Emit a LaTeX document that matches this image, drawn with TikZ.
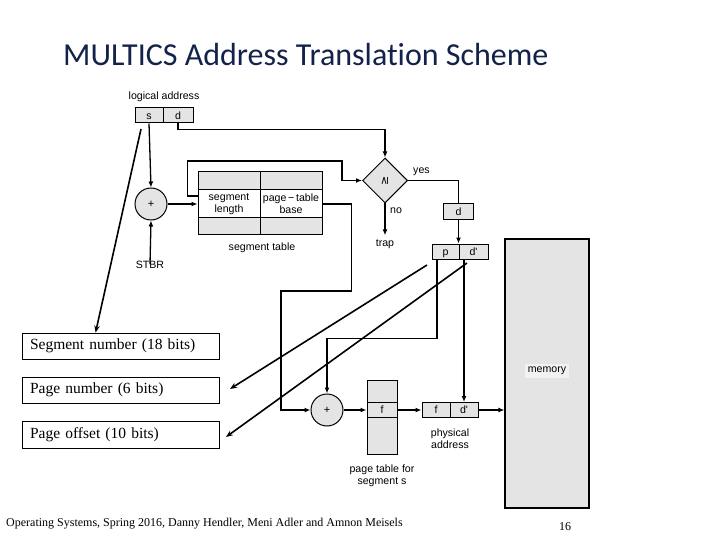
\documentclass[tikz,border=0pt]{standalone}
\usepackage{fontspec}
\setmainfont{Liberation Serif}
\newfontfamily\hv{Liberation Sans}
\newfontfamily\calfont[Ligatures={NoCommon}]{Carlito}
\newfontfamily\djfont{DejaVu Sans}
\usetikzlibrary{arrows.meta,shapes.geometric,calc}
\definecolor{cellgray}{HTML}{E4E4E4}
\definecolor{titleblue}{HTML}{13224A}
\tikzset{
  lab/.style={font=\hv\fontsize{10.6}{12.5}\selectfont, inner sep=0pt, align=center},
  gcell/.style={draw, line width=1pt, fill=cellgray, inner sep=0pt, font=\hv\fontsize{10.6}{12}\selectfont, align=center},
  onel/.style={gcell, text height=7.7pt, text depth=0pt},
  wcell/.style={gcell, fill=white},
  conn/.style={line width=1.3pt},
  arr/.style={conn, -{Latex[length=6pt,width=5pt]}},
  obox/.style={draw, line width=0.9pt, fill=white, text width=181pt, align=left, inner xsep=8pt, inner ysep=0pt, font=\fontsize{15.5}{17}\selectfont},
  oarr/.style={line width=1.6pt, -{Stealth[length=7pt,width=5.5pt]}},
  adder/.style={circle, draw, line width=1pt, fill=cellgray, minimum size=32pt, inner sep=0pt, font=\hv\fontsize{11}{12}\selectfont}
}
\begin{document}
\begin{tikzpicture}[x=1pt,y=-1pt]
\useasboundingbox (0,0) rectangle (720,540);
% title
\node[anchor=base west, font=\calfont\fontsize{32}{35}\selectfont, text=titleblue, inner sep=0pt] (title) at (63,66) {MULTICS Address Translation Scheme};
% logical address
\node[lab] (la) at (164,97) {logical address};
\node[onel, minimum width=28pt, minimum height=15pt] (s) at (149,115.5) {s};
\node[onel, minimum width=30pt, minimum height=15pt] (d) at (178,115.5) {d};
% adder 1
\node[adder] (c1) at (151,204) {+};
\node[lab] (stbr) at (150,265) {STBR};
\draw[arr] (s.south) -- (c1.north);
\draw[arr] (stbr.north) ++(0,-3pt) -- (c1.south);
% segment table
\node[gcell, minimum width=62pt, minimum height=18pt] (st1) at (229,181) {};
\node[gcell, minimum width=62pt, minimum height=18pt] (st2) at (291,181) {};
\node[wcell, minimum width=62pt, minimum height=28pt] (sl) at (229,204) {segment\\length};
\node[wcell, minimum width=62pt, minimum height=28pt] (pb) at (291,204) {page\,−\,table\\base};
\node[gcell, minimum width=62pt, minimum height=16pt] (st5) at (229,226) {};
\node[gcell, minimum width=62pt, minimum height=16pt] (st6) at (291,226) {};
\node[lab] (stl) at (262,248) {segment table};
\draw[arr] (c1.east) -- (sl.west);
% comparator
\node[diamond, draw, line width=1pt, fill=cellgray, minimum width=45pt, minimum height=45pt, inner sep=0pt] (dia) at (385,180.5) {\rotatebox{90}{\djfont\fontsize{11}{12}\selectfont ≥}};
\draw[arr] (d.south) -- ++(0,6) -| (dia.north);
\draw[arr] ([yshift=8pt]sl.west) -- ++(-10,0) |- (342,161) |- (dia.west);
\node[lab, anchor=west] (yes) at (413,172) {yes};
\node[lab, anchor=west] (no) at (390,211) {no};
\node[lab] (trap) at (385,244) {trap};
\draw[arr] (dia.south) -- ([yshift=4pt]trap.north);
\node[onel, minimum width=30pt, minimum height=16pt] (dbox) at (458.5,212) {d};
\draw[conn] (dia.east) -| (dbox.north);
\node[onel, minimum width=27pt, minimum height=15pt] (pp) at (445.5,251.5) {p};
\node[onel, minimum width=29pt, minimum height=15pt] (ppd) at (473.5,251.5) {d'};
\draw[arr] (dbox.south) -- (dbox.south |- pp.north);
% adder 2 and page table
\node[adder] (c2) at (327,410) {+};
\draw[arr] (pb.east) -- ++(29,0) |- (281,291) |- (c2.west);
\draw[arr] ([xshift=-8.5pt]pp.south) -- ++(0,79) -| (c2.north);
\node[gcell, minimum width=30pt, minimum height=22.5pt] (pt1) at (382,391.25) {};
\node[onel, minimum width=30pt, minimum height=15pt] (ptf) at (382,410) {f};
\node[gcell, minimum width=30pt, minimum height=36.5pt] (pt3) at (382,435.75) {};
\draw[arr] (c2.east) -- (ptf.west);
\node[lab] (ptl) at (382,476) {page table for\\segment s};
% physical address
\node[onel, minimum width=28pt, minimum height=15pt] (pf) at (436,410) {f};
\node[onel, minimum width=28pt, minimum height=15pt] (pd) at (464,410) {d'};
\draw[arr] (ptf.east) -- (pf.west);
\draw[arr] ([xshift=-9.5pt]ppd.south) -- (pd.north);
\node[lab] (phl) at (450,438.5) {physical\\address};
% memory
\node[draw, line width=1.2pt, fill=cellgray, minimum width=84pt, minimum height=269pt, inner sep=0pt] (mem) at (547,373.5) {};
\node[lab, fill=gray!10, inner sep=3pt] (meml) at (547,371) {memory};
\draw[arr] (pd.east) -- (pd.east -| mem.west);
% overlay boxes
\node[obox, minimum height=26pt] (b1) at (120.5,346) {Segment number (18 bits)};
\node[obox, minimum height=26pt] (b2) at (120.5,390) {Page number (6 bits)};
\node[obox, minimum height=27pt] (b3) at (120.5,434.5) {Page offset (10 bits)};
\coordinate (o1) at (141,129);
\coordinate (o2) at (427,265);
\coordinate (t2) at (230,389);
\coordinate (o3) at (467,263);
\coordinate (t3) at (226,437);
\draw[oarr] (o1) -- ([xshift=74pt]b1.north west);
\draw[oarr] (o2) -- (t2);
\draw[oarr] (o3) -- (t3);
% footer
\node[anchor=base west, inner sep=0pt, font=\fontsize{12}{14}\selectfont] (foot) at (6,526) {Operating Systems, Spring 2016, Danny Hendler, Meni Adler and Amnon Meisels};
\node[anchor=base, inner sep=0pt, font=\fontsize{12}{14}\selectfont] (pg) at (565,530) {16};
\end{tikzpicture}
\end{document}
